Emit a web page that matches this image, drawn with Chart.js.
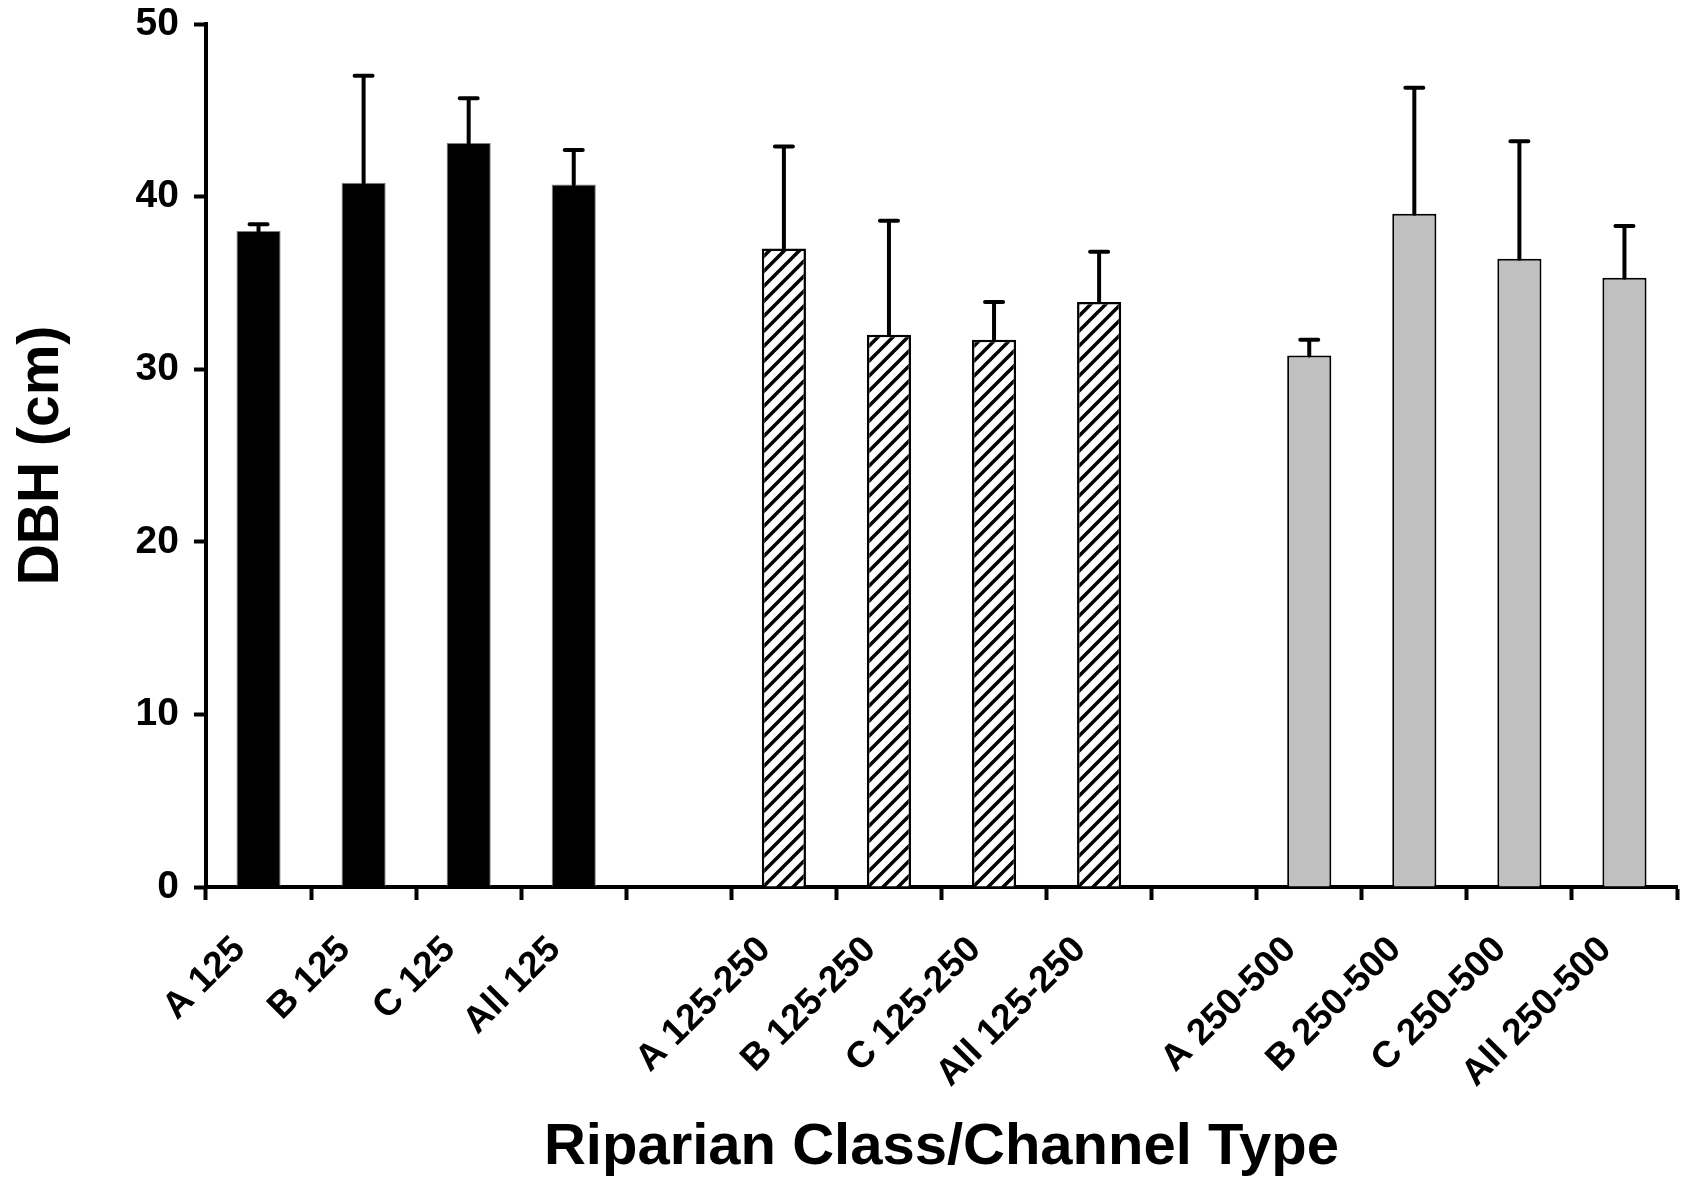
<!DOCTYPE html>
<html>
<head>
<meta charset="utf-8">
<script src="https://cdn.jsdelivr.net/npm/chart.js@4"></script>
<style>
  html, body { margin: 0; padding: 0; background: #fff; }
  #wrap { width: 1684px; height: 1177px; }
</style>
</head>
<body>
<div id="wrap"><canvas id="myChart" width="1684" height="1177"></canvas></div>
<script>
// categories along the x axis ('' = empty gap slot between the size classes)
const categories = ['A 125', 'B 125', 'C 125', 'All 125', '',
  'A 125-250', 'B 125-250', 'C 125-250', 'All 125-250', '',
  'A 250-500', 'B 250-500', 'C 250-500', 'All 250-500'];

// mean DBH (cm) and upper error (cm) per riparian class
const mean125 = [38.0, 40.8, 43.1, 40.7];
const err125 = [0.4, 6.2, 2.6, 2.0];
const mean125_250 = [37.0, 32.0, 31.7, 33.9];
const err125_250 = [5.9, 6.6, 2.2, 2.9];
const mean250_500 = [30.8, 39.0, 36.4, 35.3];
const err250_500 = [0.9, 7.3, 6.8, 3.0];

const yTicks = [0, 10, 20, 30, 40, 50];

const FONT = '"Liberation Sans", Arial, sans-serif';

// put a group of 4 values into its slots of the 14 categories
function slot(values, start) {
  const out = categories.map(() => null);
  values.forEach((v, i) => { out[start + i] = v; });
  return out;
}

function hatch() {
  const s = 15;
  const c = document.createElement('canvas');
  c.width = s; c.height = s;
  const g = c.getContext('2d');
  g.fillStyle = '#fff';
  g.fillRect(0, 0, s, s);
  g.strokeStyle = '#000';
  g.lineWidth = 3.5;
  g.beginPath();
  g.moveTo(-s, s); g.lineTo(s, -s);
  g.moveTo(0, s); g.lineTo(s, 0);
  g.moveTo(0, 2 * s); g.lineTo(2 * s, 0);
  g.stroke();
  return g.createPattern(c, 'repeat');
}

const errorBars = {
  id: 'errorBars',
  afterDatasetsDraw(chart) {
    const ctx = chart.ctx;
    const y = chart.scales.y;
    ctx.save();
    ctx.strokeStyle = '#000';
    ctx.lineWidth = 4;
    ctx.lineCap = 'round';
    chart.data.datasets.forEach((ds, di) => {
      const meta = chart.getDatasetMeta(di);
      meta.data.forEach((bar, i) => {
        const v = ds.data[i];
        const e = ds.errors[i];
        if (v == null || e == null) return;
        const top = y.getPixelForValue(v + e);
        ctx.beginPath();
        ctx.moveTo(bar.x, bar.y);
        ctx.lineTo(bar.x, top);
        ctx.moveTo(bar.x - 9, top);
        ctx.lineTo(bar.x + 9, top);
        ctx.stroke();
      });
    });
    ctx.restore();
  }
};

const common = { grouped: false, categoryPercentage: 1, barPercentage: 0.42 };

new Chart(document.getElementById('myChart'), {
  type: 'bar',
  data: {
    labels: categories,
    datasets: [
      Object.assign({ label: '< 125', data: slot(mean125, 0), errors: slot(err125, 0),
        backgroundColor: '#000', borderColor: '#7f7f7f', borderWidth: 1 }, common),
      Object.assign({ label: '125-250', data: slot(mean125_250, 5), errors: slot(err125_250, 5),
        backgroundColor: hatch(), borderColor: '#000', borderWidth: 2.5 }, common),
      Object.assign({ label: '250-500', data: slot(mean250_500, 10), errors: slot(err250_500, 10),
        backgroundColor: '#c0c0c0', borderColor: '#000', borderWidth: 2 }, common)
    ]
  },
  options: {
    responsive: false,
    animation: false,
    layout: { padding: { left: 0, right: 7, top: 24, bottom: 0 } },
    plugins: {
      legend: { display: false },
      tooltip: { enabled: false }
    },
    scales: {
      x: {
        offset: true,
        afterFit(scale) { scale.height = 290; scale.paddingLeft = 0; scale.paddingRight = 0; },
        border: { display: true, color: '#000', width: 4 },
        grid: { offset: true, drawOnChartArea: false, drawTicks: true, tickLength: 13,
          tickWidth: 4, color: '#000' },
        ticks: { autoSkip: false, minRotation: 45, maxRotation: 45, padding: 28, labelOffset: -19,
          color: '#000', font: { family: FONT, size: 37, weight: 'bold' } },
        title: { display: true, text: 'Riparian Class/Channel Type', color: '#000',
          padding: { top: 21, bottom: 0 },
          font: { family: FONT, size: 58, weight: 'bold', lineHeight: 1 } }
      },
      y: {
        min: 0,
        max: 50,
        afterFit(scale) { scale.width = 206; scale.paddingTop = 0; scale.paddingBottom = 0; },
        afterBuildTicks(scale) { scale.ticks = yTicks.map(v => ({ value: v })); },
        border: { display: true, color: '#000', width: 4 },
        grid: { drawOnChartArea: false, drawTicks: true, tickLength: 12, tickWidth: 4, color: '#000' },
        ticks: { padding: 15, color: '#000', font: { family: FONT, size: 39, weight: 'bold' } },
        title: { display: true, text: 'DBH (cm)', color: '#000',
          padding: { top: 14, bottom: 0 },
          font: { family: FONT, size: 57, weight: 'bold', lineHeight: 1 } }
      }
    }
  },
  plugins: [errorBars]
});
</script>
</body>
</html>
